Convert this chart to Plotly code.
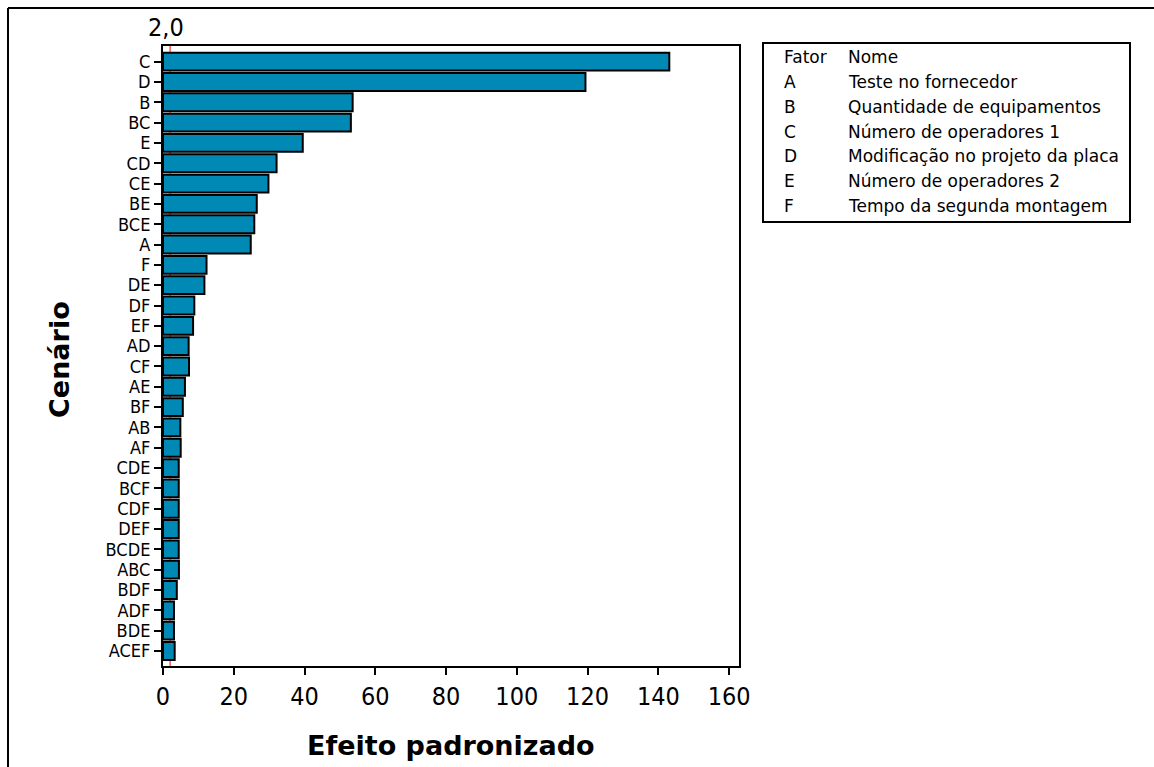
import plotly.graph_objects as go

# Pareto dos efeitos padronizados
cenarios = ["C", "D", "B", "BC", "E", "CD", "CE", "BE", "BCE", "A",
            "F", "DE", "DF", "EF", "AD", "CF", "AE", "BF", "AB", "AF",
            "CDE", "BCF", "CDF", "DEF", "BCDE", "ABC", "BDF", "ADF", "BDE", "ACEF"]
efeitos = [143.1, 119.4, 53.6, 53.1, 39.5, 32.1, 29.8, 26.5, 25.8, 24.8,
           12.3, 11.7, 8.85, 8.5, 7.25, 7.35, 6.2, 5.6, 4.9, 5.0,
           4.45, 4.45, 4.45, 4.45, 4.45, 4.5, 3.9, 3.1, 3.1, 3.3]
limite = 2.0
x_ticks = [0, 20, 40, 60, 80, 100, 120, 140, 160]

fatores = ["A", "B", "C", "D", "E", "F"]
nomes = ["Teste no fornecedor", "Quantidade de equipamentos", "Número de operadores 1",
         "Modificação no projeto da placa", "Número de operadores 2", "Tempo da segunda montagem"]

W, H = 1154, 767
PL, PR, PT, PB = 163, 739, 46, 666  # plot area in pixels


def px(x):
    return (x - PL) / (PR - PL)


def py(y):
    return (PB - y) / (PB - PT)


FONT = "DejaVu Sans Condensed, Liberation Sans Narrow, DejaVu Sans"
BOLD = "DejaVu Sans, Verdana, sans-serif"


def nota(x, y, text, size, family=FONT, **kw):
    fig.add_annotation(x=x, y=y, xref="paper", yref="paper", text=text, showarrow=False,
                       yanchor="middle", font=dict(family=family, size=size, color="black"), **kw)


fig = go.Figure()
fig.add_trace(go.Bar(
    x=efeitos, y=cenarios, orientation="h", width=0.88,
    marker=dict(color="#0089b4", line=dict(color="black", width=2)),
    showlegend=False,
))

# linha de referência
fig.add_shape(type="line", x0=limite, x1=limite, y0=0, y1=1, xref="x", yref="paper",
              line=dict(color="red", width=1), layer="below")
fig.add_annotation(x=limite, y=py(28), xref="x", yref="paper", text="2,0", showarrow=False,
                   xanchor="center", yanchor="middle", xshift=-4,
                   font=dict(family=FONT, size=25, color="black"))

# títulos dos eixos
nota(0.5, py(745), "<b>Efeito padronizado</b>", 27, family=BOLD, xanchor="center")
nota(px(59), py(360), "<b>Cenário</b>", 27, family=BOLD, xanchor="center", textangle=-90)

# tabela de fatores
fig.add_shape(type="rect", x0=px(763), x1=px(1130), y0=py(43), y1=py(222),
              xref="paper", yref="paper", line=dict(color="black", width=2))
linhas = [("Fator", "Nome")] + list(zip(fatores, nomes))
step = (206 - 57) / (len(linhas) - 1)
for i, (f, n) in enumerate(linhas):
    yy = py(57 + i * step)
    nota(px(782), yy, f, 17, family="DejaVu Sans", xanchor="left")
    nota(px(846), yy, n, 17, family="DejaVu Sans", xanchor="left")

# moldura externa
fig.add_shape(type="line", x0=px(8), x1=px(W), y0=py(8), y1=py(8), xref="paper", yref="paper",
              line=dict(color="black", width=2))
fig.add_shape(type="line", x0=px(8), x1=px(8), y0=py(8), y1=py(H), xref="paper", yref="paper",
              line=dict(color="black", width=2))

fig.update_layout(
    width=W, height=H,
    margin=dict(l=PL, r=W - PR, t=PT, b=H - PB),
    plot_bgcolor="white", paper_bgcolor="white",
    font=dict(family=FONT, color="black"),
)
fig.update_xaxes(range=[0, 162.8], tickvals=x_ticks, ticks="outside", ticklen=7, tickwidth=2,
                 tickcolor="black", showline=True, linecolor="black", linewidth=2, mirror=True,
                 showgrid=False, zeroline=False, tickfont=dict(size=25))
fig.update_yaxes(type="category", categoryarray=cenarios, tickmode="array", tickvals=cenarios,
                 range=[29.74, -0.77], ticks="outside", ticklen=7, tickwidth=2, tickcolor="black",
                 showline=True, linecolor="black", linewidth=2, mirror=True, showgrid=False,
                 zeroline=False, tickfont=dict(size=18))

fig.write_html("out.html", config={"displayModeBar": False},
               post_script="document.body.style.margin='0';document.body.style.overflow='hidden';")
